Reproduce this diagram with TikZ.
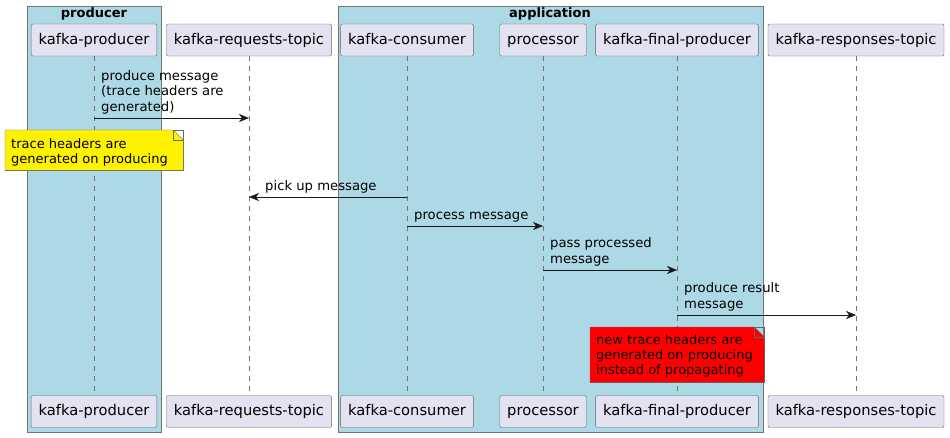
\documentclass[tikz,border=0pt]{standalone}
\usepackage{fontspec}
\setmainfont{DejaVu Sans}
\usetikzlibrary{positioning,arrows.meta}
\definecolor{grpblue}{HTML}{ADD8E6}
\definecolor{partfill}{HTML}{E2E2F0}

\begin{document}
\begin{tikzpicture}[x=1pt,y=-1pt,
    partnode/.style={rectangle,rounded corners=2pt,draw=black!60,fill=partfill,font=\fontsize{14.7}{17}\selectfont,text height=11pt,text depth=3pt,minimum height=32pt,inner xsep=7.5pt},
    grpbox/.style={draw=black!55,fill=grpblue},
    grptitle/.style={font=\bfseries\fontsize{13}{15}\selectfont,inner sep=0pt},
    lifeline/.style={draw=black!55,dash pattern=on 5pt off 5pt},
    msg/.style={draw=black!90,-{Stealth[length=10pt,width=8pt,inset=3pt]}},
    msglabel/.style={font=\fontsize{13.2}{15.5}\selectfont,align=left,inner sep=0pt},
    notebox/.style={draw=black!60,minimum width=#1,inner sep=0pt,anchor=north west},
    notetext/.style={font=\fontsize{13}{15}\selectfont,align=left,inner xsep=6pt,inner ysep=0pt,anchor=west}]
    \useasboundingbox (0,0) rectangle (950,437);
    % groups
    \draw[grpbox] (27,6) rectangle (161,432);
    \draw[grpbox] (338,6) rectangle (763,432);
    \node[grptitle] (producer) at (94,14) {producer};
    \node[grptitle] (application) at (550,14) {application};
    % participants
    \node[partnode] (prodtop) at (94,40) {kafka-producer};
    \node[partnode] (reqtop) at (249,40) {kafka-requests-topic};
    \node[partnode] (constop) at (407,40) {kafka-consumer};
    \node[partnode] (proctop) at (543,40) {processor};
    \node[partnode] (finaltop) at (677,40) {kafka-final-producer};
    \node[partnode] (resptop) at (856,40) {kafka-responses-topic};
    \node[partnode] (prodbot) at (94,411.5) {kafka-producer};
    \node[partnode] (reqbot) at (249,411.5) {kafka-requests-topic};
    \node[partnode] (consbot) at (407,411.5) {kafka-consumer};
    \node[partnode] (procbot) at (543,411.5) {processor};
    \node[partnode] (finalbot) at (677,411.5) {kafka-final-producer};
    \node[partnode] (respbot) at (856,411.5) {kafka-responses-topic};
    % lifelines
    \draw[lifeline] (prodtop) -- (prodbot);
    \draw[lifeline] (reqtop) -- (reqbot);
    \draw[lifeline] (constop) -- (consbot);
    \draw[lifeline] (proctop) -- (procbot);
    \draw[lifeline] (finaltop) -- (finalbot);
    \draw[lifeline] (resptop) -- (respbot);
    % messages
    \coordinate (produce) at (prodtop |- 0,118);
    \coordinate (pickup) at (constop |- 0,197);
    \coordinate (process) at (constop |- 0,226);
    \coordinate (pass) at (proctop |- 0,270);
    \coordinate (result) at (finaltop |- 0,315);
    \draw[msg] (produce) -- (reqtop |- produce);
    \draw[msg] (pickup) -- (reqtop |- pickup);
    \draw[msg] (process) -- (proctop |- process);
    \draw[msg] (pass) -- (finaltop |- pass);
    \draw[msg] (result) -- (resptop |- result);
    \node[msglabel,above right=4pt and 7pt of produce] (producelbl) {produce message\\(trace headers are\\generated)};
    \node[msglabel,above right=4pt and 16pt of reqtop |- pickup] (pickuplbl) {pick up message};
    \node[msglabel,above right=4pt and 7pt of process] (processlbl) {process message};
    \node[msglabel,above right=4pt and 7pt of pass] (passlbl) {pass processed\\message};
    \node[msglabel,above right=4pt and 7pt of result] (resultlbl) {produce result\\message};
    % notes
    \node[notebox=178pt,minimum height=40pt] (traceNote) at (5,130) {};
    \fill[yellow] (traceNote.north west) -- ([xshift=-10pt]traceNote.north east) -- ([yshift=-10pt]traceNote.north east) -- (traceNote.south east) -- (traceNote.south west) -- cycle;
    \draw[draw=black!60] (traceNote.north west) -- ([xshift=-10pt]traceNote.north east) -- ([yshift=-10pt]traceNote.north east) -- (traceNote.south east) -- (traceNote.south west) -- cycle;
    \draw[draw=black!60] ([xshift=-10pt]traceNote.north east) |- ([yshift=-10pt]traceNote.north east);
    \node[notetext] (traceNotetext) at ([yshift=-2pt]traceNote.west) {trace headers are\\generated on producing};
    \node[notebox=174pt,minimum height=55pt] (newNote) at (590,327) {};
    \fill[red] (newNote.north west) -- ([xshift=-10pt]newNote.north east) -- ([yshift=-10pt]newNote.north east) -- (newNote.south east) -- (newNote.south west) -- cycle;
    \draw[draw=black!60] (newNote.north west) -- ([xshift=-10pt]newNote.north east) -- ([yshift=-10pt]newNote.north east) -- (newNote.south east) -- (newNote.south west) -- cycle;
    \draw[draw=black!60] ([xshift=-10pt]newNote.north east) |- ([yshift=-10pt]newNote.north east);
    \node[notetext] (newNotetext) at ([yshift=-1pt]newNote.west) {new trace headers are\\generated on producing\\instead of propagating};
\end{tikzpicture}
\end{document}
